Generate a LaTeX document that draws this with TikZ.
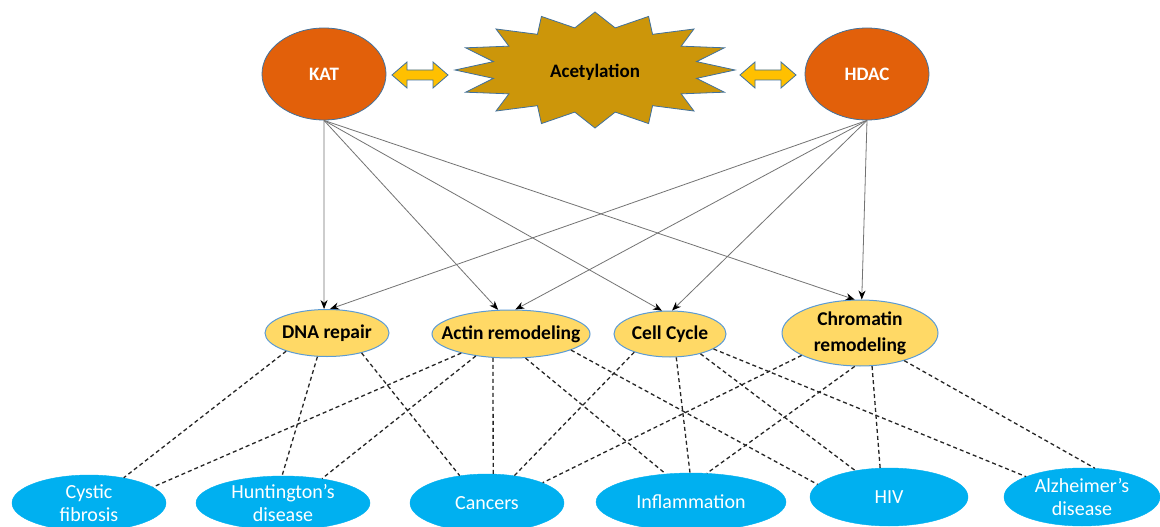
\documentclass[tikz,border=0pt]{standalone}
\usepackage{fontspec}
\setmainfont{Carlito}
\usetikzlibrary{shapes.geometric,arrows.meta}
\definecolor{katorange}{RGB}{226,96,10}
\definecolor{stargold}{RGB}{204,150,10}
\definecolor{arrowyellow}{RGB}{255,192,0}
\definecolor{edgeblue}{RGB}{65,113,156}
\definecolor{procyellow}{RGB}{255,217,102}
\definecolor{procedge}{RGB}{91,155,213}
\definecolor{disblue}{RGB}{0,176,240}
\begin{document}
\begin{tikzpicture}[x=1pt,y=-1pt,
  enzyme/.style={ellipse, fill=katorange, draw=edgeblue, line width=0.8pt, text=white,
    font=\fontsize{19}{22}\selectfont\bfseries, inner sep=0pt, minimum width=124pt, minimum height=92pt},
  ptext/.style={font=\fontsize{19.5}{26}\selectfont\bfseries, align=center, text=black},
  dtext/.style={font=\fontsize{20}{23}\selectfont, align=center, text=white},
  process/.style={ellipse, fill=procyellow, draw=procedge, line width=1pt, inner sep=0pt,
    label={[ptext]center:{#1}}},
  disease/.style={ellipse, fill=disblue, draw=disblue, inner sep=0pt,
    label={[dtext]center:{#1}}},
  link/.style={draw=black!55, line width=0.8pt, -{Stealth[length=9pt,width=7pt,color=black]}},
  assoc/.style={draw=black!85, line width=1.3pt, dash pattern=on 4pt off 3pt},
  dblarrow/.style={fill=arrowyellow, draw=edgeblue, line width=0.8pt},
  burst/.style={fill=stargold, draw=edgeblue, line width=0.8pt},
]
\useasboundingbox (0,0) rectangle (1160,527);
\clip (0,0) rectangle (1160,527);
\fill[white] (0,0) rectangle (1160,527);

% top row
\node[enzyme] (kat) at (324,74) {KAT};
\node[enzyme] (hdac) at (867,74) {HDAC};
\filldraw[burst] plot[variable=\i, samples at={0,...,31}]
  ({595+140*(1-0.26*mod(\i,2))*cos(90+11.25*\i)}, {70-58*(1-0.26*mod(\i,2))*sin(90+11.25*\i)}) -- cycle;
\node[font=\fontsize{19}{22}\selectfont\bfseries] (acet) at (595,72) {Acetylation};
\foreach \cx in {420,768}{
  \filldraw[dblarrow, shift={(\cx,75)}] (-28,0) -- (-13,-13) -- (-13,-5) -- (13,-5) -- (13,-13)
    -- (28,0) -- (13,13) -- (13,5) -- (-13,5) -- (-13,13) -- cycle;
}

% middle row
\node[process={DNA repair}, minimum width=124pt, minimum height=47pt] (dna) at (327,333) {};
\node[process={Actin remodeling}, minimum width=158pt, minimum height=48pt] (actin) at (511,334) {};
\node[process={Cell Cycle}, minimum width=112pt, minimum height=46pt] (cell) at (670,334) {};
\node[process={Chromatin\\remodeling}, minimum width=156pt, minimum height=66pt] (chrom) at (860,333) {};

% bottom row
\node[disease={Cystic\\fibrosis}, minimum width=154pt, minimum height=56pt] (cystic) at (89,503) {};
\node[disease={Huntington’s\\disease}, minimum width=174pt, minimum height=54pt] (hunt) at (283,503) {};
\node[disease={Cancers}, minimum width=154pt, minimum height=58pt] (cancers) at (487,503) {};
\node[disease={Inflammation}, minimum width=190pt, minimum height=58pt] (infl) at (691,502) {};
\node[disease={HIV}, minimum width=158pt, minimum height=58pt] (hiv) at (889,497) {};
\node[disease={Alzheimer’s\\disease}, minimum width=156pt, minimum height=58pt] (alz) at (1082,497) {};

% solid arrows
\draw[link] (kat.south) -- (dna.97);
\draw[link] (kat.south) -- (actin.118);
\draw[link] (kat.south) -- (cell.109);
\draw[link] (kat.south) -- (chrom.99);
\draw[link] (hdac.south) -- (dna.83);
\draw[link] (hdac.south) -- (actin.80);
\draw[link] (hdac.south) -- (cell.85);
\draw[link] (hdac.south) -- (chrom.87);

% dashed associations
\draw[assoc] (dna.204) -- (cystic.36);
\draw[assoc] (dna.248) -- (hunt.92);
\draw[assoc] (dna.330) -- (cancers.135);
\draw[assoc] (actin.201) -- (cystic.14);
\draw[assoc] (actin.212) -- (hunt.32);
\draw[assoc] (actin.233) -- (cancers.78);
\draw[assoc] (actin.301) -- (infl.132);
\draw[assoc] (actin.345) -- (hiv.170);
\draw[assoc] (cell.207) -- (cancers.45);
\draw[assoc] (cell.285) -- (infl.92);
\draw[assoc] (cell.327) -- (hiv.142);
\draw[assoc] (cell.341) -- (alz.160);
\draw[assoc] (chrom.201) -- (cancers.20);
\draw[assoc] (chrom.261) -- (infl.61);
\draw[assoc] (chrom.290) -- (hiv.107);
\draw[assoc] (chrom.328) -- (alz.66);
\end{tikzpicture}
\end{document}
